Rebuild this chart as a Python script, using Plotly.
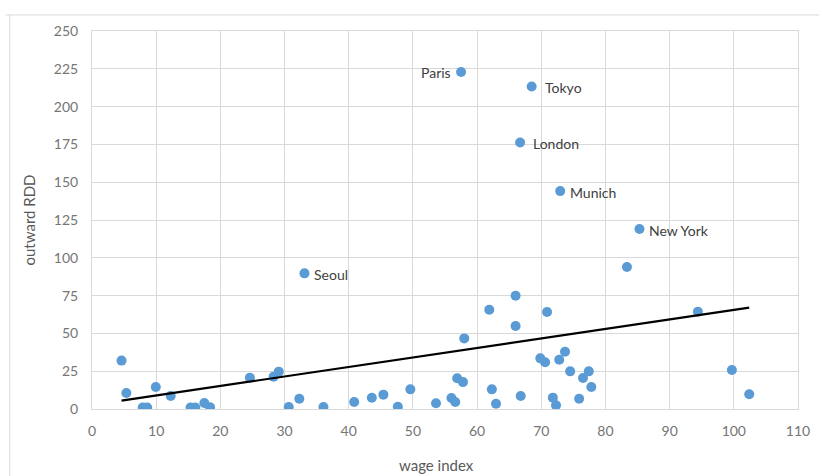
import numpy as np
import plotly.graph_objects as go

# Unlabelled metro regions: wage index vs outward RDD
wage_index = [4.6, 5.35, 7.9, 8.6, 9.94, 12.26, 15.35, 16.1, 17.5, 18.4,
              24.6, 28.3, 29.1, 30.65, 32.3, 36.06, 40.85, 43.6, 45.4, 47.65,
              49.6, 53.6, 56.0, 56.6, 56.9, 57.8, 58.0, 61.9, 62.3, 62.95,
              66.0, 66.0, 66.8, 69.85, 70.6, 70.9, 71.8, 72.3, 72.8, 73.7,
              74.5, 75.9, 76.5, 77.4, 77.8, 83.35, 94.4, 99.7, 102.4]
outward_rdd = [32, 10.6, 1, 1, 14.5, 8.6, 1, 1, 4, 1.1,
               20.7, 21.4, 24.7, 1.3, 6.8, 1.3, 4.6, 7.4, 9.5, 1.5,
               13, 3.8, 7.3, 4.6, 20.3, 17.8, 46.7, 65.6, 13, 3.5,
               74.9, 54.9, 8.6, 33.5, 30.9, 64.1, 7.5, 2.4, 32.6, 37.9,
               24.9, 6.8, 20.5, 24.9, 14.5, 93.9, 64.3, 25.8, 9.7]

# Named cities
city_names = ["Seoul", "Paris", "Tokyo", "London", "Munich", "New York"]
city_wage = [33.1, 57.5, 68.5, 66.7, 72.95, 85.3]
city_rdd = [89.7, 222.9, 213.3, 176.3, 144.1, 119.0]

x_ticks = list(range(0, 111, 10))
y_ticks = list(range(0, 251, 25))

all_x = np.array(wage_index + city_wage)
all_y = np.array(outward_rdd + city_rdd)

# Linear least-squares trend over every point
slope, intercept = np.polyfit(all_x, all_y, 1)
trend_x = np.array([all_x.min(), all_x.max()])
trend_y = slope * trend_x + intercept

dot_color = "#5B9BD5"
grid_color = "#D9D9D9"
font_family = "Lato, 'Open Sans', sans-serif"

fig = go.Figure()

fig.add_trace(go.Scatter(
    x=wage_index + city_wage, y=outward_rdd + city_rdd,
    mode="markers",
    marker=dict(color=dot_color, size=10, line=dict(width=0)),
    showlegend=False, hoverinfo="x+y",
))

fig.add_trace(go.Scatter(
    x=trend_x, y=trend_y, mode="lines",
    line=dict(color="#000000", width=2.2),
    showlegend=False, hoverinfo="skip",
))

# City labels: Paris sits to the left of its dot, the rest to the right
label_side = {"Paris": "right"}
label_shift = {"Paris": -8, "Tokyo": 11, "London": 11}
for name, xv, yv in zip(city_names, city_wage, city_rdd):
    anchor = label_side.get(name, "left")
    fig.add_annotation(
        x=xv, y=yv, text=name, showarrow=False,
        xanchor=anchor, yanchor="middle",
        xshift=label_shift.get(name, 8), yshift=-1,
        font=dict(family=font_family, size=14, color="#404040"),
    )

# Chart-area frame (top and left edges)
fig.add_shape(type="line", xref="paper", yref="paper",
              x0=-0.1225, x1=1.03, y0=1.0425, y1=1.0425,
              line=dict(color="#D9D9D9", width=1))
fig.add_shape(type="line", xref="paper", yref="paper",
              x0=-0.1165, x1=-0.1165, y0=-0.2, y1=1.0425,
              line=dict(color="#D9D9D9", width=1))

# Horizontal axis title, centred under the chart area
fig.add_annotation(
    x=0.488, y=-0.148, xref="paper", yref="paper",
    text="wage index", showarrow=False, xanchor="center", yanchor="middle",
    font=dict(family=font_family, size=15, color="#595959"),
)

fig.update_layout(
    width=822, height=476,
    margin=dict(l=92, r=20, t=31, b=67),
    paper_bgcolor="white", plot_bgcolor="white",
    font=dict(family=font_family, color="#595959"),
    xaxis=dict(
        range=[0, 110], tickvals=x_ticks, ticktext=[str(v) for v in x_ticks],
        showgrid=True, gridcolor=grid_color, gridwidth=1,
        zeroline=False, showline=True, mirror=True,
        linecolor=grid_color, linewidth=1,
        ticks="", ticklabelstandoff=9, tickfont=dict(size=14, color="#757575"),
    ),
    yaxis=dict(
        range=[0, 250], tickvals=y_ticks, ticktext=[str(v) for v in y_ticks],
        showgrid=True, gridcolor=grid_color, gridwidth=1,
        zeroline=False, showline=True, mirror=True,
        linecolor=grid_color, linewidth=1,
        ticks="", ticklabelstandoff=10, tickfont=dict(size=14, color="#757575"),
        title=dict(text="outward RDD", standoff=14,
                   font=dict(size=15, color="#595959")),
    ),
)

fig.write_html("out.html")
